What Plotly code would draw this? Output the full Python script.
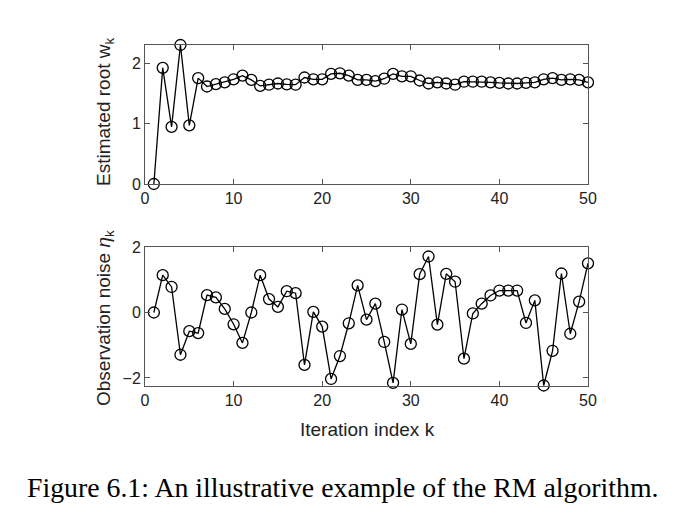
import plotly.graph_objects as go

k = list(range(1, 51))
w_est = [0.0, 1.93, 0.95, 2.31, 0.975, 1.76, 1.62, 1.66, 1.69, 1.74,
         1.80, 1.73, 1.63, 1.65, 1.67, 1.655, 1.65, 1.77, 1.74, 1.74,
         1.83, 1.84, 1.80, 1.73, 1.73, 1.71, 1.75, 1.83, 1.79, 1.79,
         1.72, 1.67, 1.69, 1.67, 1.65, 1.70, 1.70, 1.70, 1.69, 1.68,
         1.67, 1.67, 1.68, 1.69, 1.74, 1.76, 1.73, 1.74, 1.73, 1.69]
noise = [0.0, 1.14, 0.78, -1.29, -0.57, -0.63, 0.53, 0.46, 0.11, -0.36,
         -0.93, 0.0, 1.14, 0.41, 0.17, 0.65, 0.59, -1.60, 0.02, -0.43,
         -2.03, -1.33, -0.33, 0.83, -0.22, 0.27, -0.90, -2.15, 0.09, -0.96,
         1.17, 1.71, -0.37, 1.18, 0.94, -1.41, -0.03, 0.27, 0.52, 0.67,
         0.67, 0.67, -0.32, 0.37, -2.23, -1.17, 1.19, -0.65, 0.33, 1.50]
x_ticks = [0, 10, 20, 30, 40, 50]
y1_ticks = [0, 1, 2]
y2_ticks = [-2, 0, 2]
caption = "Figure 6.1: An illustrative example of the RM algorithm."

OFF = 8  # page body margin in the browser
W, H = 684 - OFF, 519 - OFF
L, R, T, B = 145 - OFF, 588 - OFF, 45 - OFF, 386 - OFF  # plot-area pixel bounds
PH = B - T
axis_col = "#555555"
sans = "Liberation Sans, Arial, sans-serif"
tick_font = dict(family=sans, size=16, color="#222222")
title_font = dict(family=sans, size=19, color="#222222")

marker = dict(symbol="circle-open", size=11, color="black", line=dict(width=1.3, color="black"))

fig = go.Figure()
fig.add_trace(go.Scatter(x=k, y=w_est, mode="lines+markers", line=dict(color="black", width=1.3),
                         marker=marker, xaxis="x", yaxis="y", showlegend=False, cliponaxis=False))
fig.add_trace(go.Scatter(x=k, y=noise, mode="lines+markers", line=dict(color="black", width=1.3),
                         marker=marker, xaxis="x2", yaxis="y2", showlegend=False, cliponaxis=False))

common_x = dict(range=[0, 50], tickvals=x_ticks, ticks="inside", ticklen=5, tickcolor=axis_col,
                showline=True, linecolor=axis_col, linewidth=1, mirror="ticks", showgrid=False,
                zeroline=False, tickfont=tick_font, domain=[0, 1], automargin=False)
common_y = dict(ticks="inside", ticklen=5, tickcolor=axis_col, showline=True, linecolor=axis_col,
                linewidth=1, mirror="ticks", showgrid=False, zeroline=False, tickfont=tick_font,
                automargin=False)

def ypaper(py):
    return 1 - (py - OFF - T) / PH

def xpaper(px):
    return (px - OFF - L) / (R - L)

fig.update_layout(
    width=W, height=H, margin=dict(l=L, r=W - R, t=T, b=H - B, autoexpand=False),
    paper_bgcolor="white", plot_bgcolor="white",
    xaxis=dict(**common_x, anchor="y"),
    yaxis=dict(**common_y, range=[0, 2.31], tickvals=y1_ticks, anchor="x",
               domain=[ypaper(184), 1]),
    xaxis2=dict(**common_x, anchor="y2"),
    yaxis2=dict(**common_y, range=[-2.245, 2], tickvals=y2_ticks, anchor="x2",
                domain=[0, ypaper(247)]),
    annotations=[
        dict(text="Estimated root w<sub>k</sub>", xref="paper", yref="paper",
             x=xpaper(105), y=ypaper(112), textangle=-90, showarrow=False,
             xanchor="center", yanchor="middle", font=title_font),
        dict(text="Observation noise <i>η</i><sub>k</sub>", xref="paper", yref="paper",
             x=xpaper(105), y=ypaper(318), textangle=-90, showarrow=False,
             xanchor="center", yanchor="middle", font=title_font),
        dict(text="Iteration index k", xref="paper", yref="paper",
             x=xpaper(367), y=ypaper(429), showarrow=False,
             xanchor="center", yanchor="middle", font=title_font),
        dict(text=caption, xref="paper", yref="paper", x=xpaper(342.5), y=ypaper(487),
             xanchor="center", yanchor="middle", showarrow=False,
             font=dict(family="Liberation Serif, DejaVu Serif, serif", size=27.8, color="black")),
    ],
)

fig.write_html("out.html")
